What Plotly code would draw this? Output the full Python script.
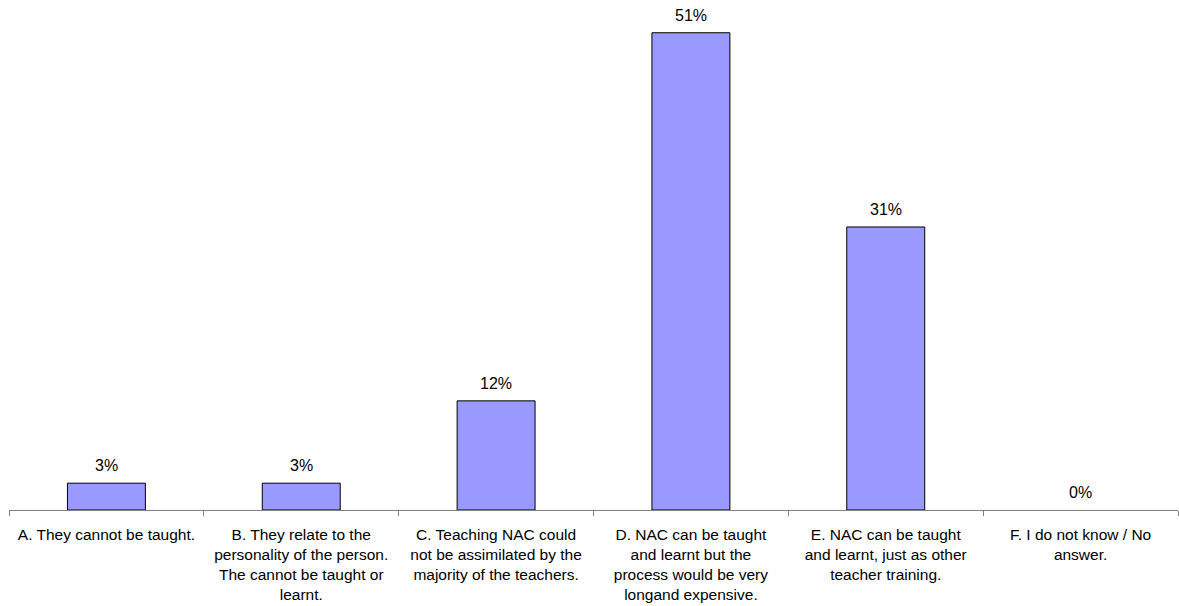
import plotly.graph_objects as go

categories = [
    "A. They cannot be taught.",
    "B. They relate to the<br>personality of the person.<br>The cannot be taught or<br>learnt.",
    "C. Teaching NAC could<br>not be assimilated by the<br>majority of the teachers.",
    "D. NAC can be taught<br>and learnt but the<br>process would be very<br>longand expensive.",
    "E. NAC can be taught<br>and learnt, just as other<br>teacher training.",
    "F. I do not know / No<br>answer.",
]
values = [2.9, 2.9, 11.8, 51.6, 30.6, 0.0]
value_labels = ["3%", "3%", "12%", "51%", "31%", "0%"]

FONT = "Liberation Sans, Arial, sans-serif"

fig = go.Figure()
fig.add_trace(go.Bar(
    x=categories,
    y=values,
    width=0.4,
    marker=dict(color="#9999FF",
                line=dict(color="#000000", width=[1 if v > 0 else 0 for v in values])),
    hoverinfo="skip",
))

for c, v, t in zip(categories, values, value_labels):
    fig.add_annotation(x=c, y=v, text=t, showarrow=False, yanchor="bottom",
                       yshift=7, font=dict(family=FONT, size=16, color="#000000"))

fig.update_layout(
    width=1179, height=606,
    margin=dict(l=9, r=1, t=0, b=96, autoexpand=False),
    paper_bgcolor="white", plot_bgcolor="white",
    showlegend=False,
    bargap=0.6,
    font=dict(family=FONT, size=16, color="#000000"),
)
fig.update_xaxes(
    automargin=False,
    showline=True, linecolor="#808080", linewidth=1,
    ticks="outside", tickson="boundaries", ticklen=5, tickcolor="#808080",
    ticklabelstandoff=10,
    tickangle=0, tickfont=dict(family=FONT, size=15.5, color="#000000"),
    showgrid=False, zeroline=False,
)
fig.update_yaxes(range=[0, 55.14], visible=False, showgrid=False, zeroline=False)

fig.write_html("out.html", config={"displayModeBar": False},
               post_script="document.body.style.margin='0px';")
